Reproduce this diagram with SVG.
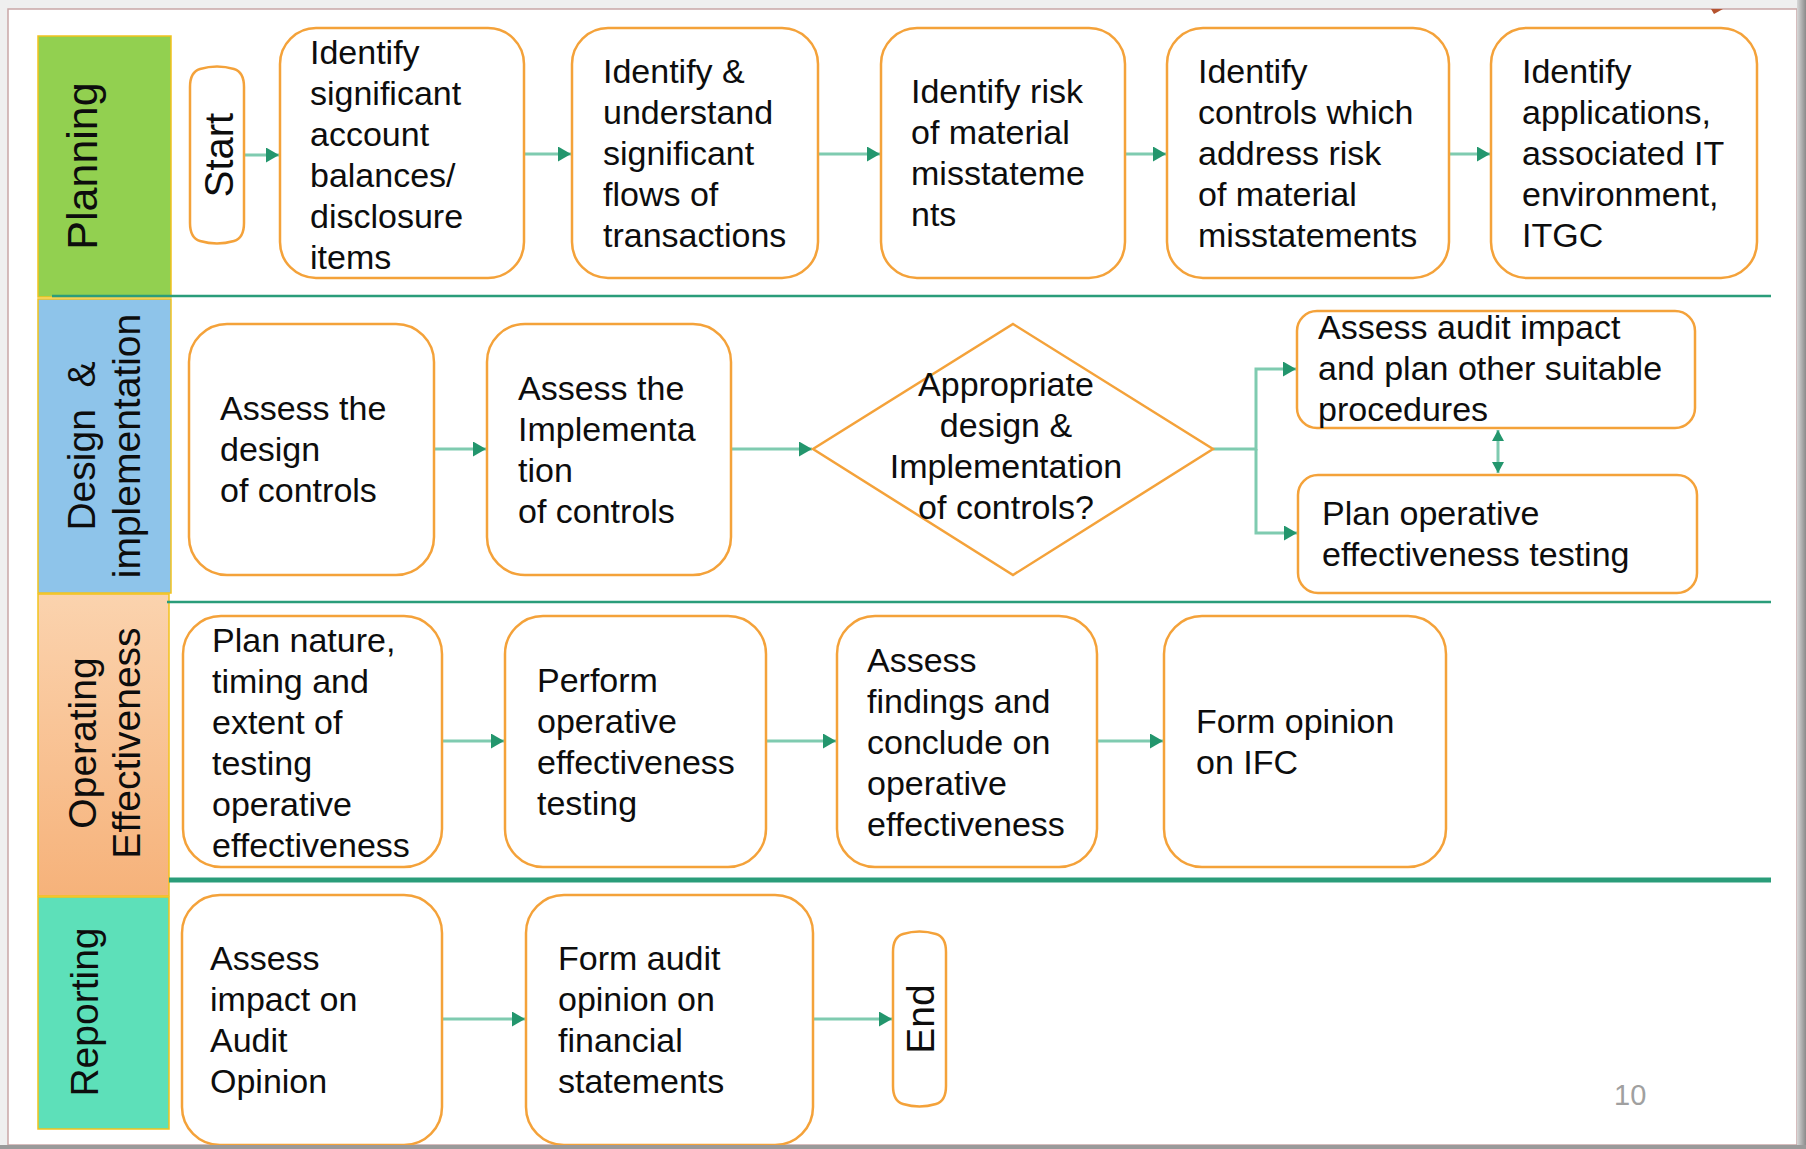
<svg xmlns="http://www.w3.org/2000/svg" width="1806" height="1149" viewBox="0 0 1806 1149">
<defs>
<style>
.node{fill:#fff;stroke:#f4a23a;stroke-width:2.5}
.t{font-family:"Liberation Sans",Arial,Helvetica,sans-serif;font-size:34px;fill:#0d0d0d}
.lt{font-family:"Liberation Sans",Arial,Helvetica,sans-serif;font-size:39px;fill:#0d0d0d;text-anchor:middle;white-space:pre}
.lane{stroke:#f2c21c;stroke-width:1.5}
.conn{fill:none;stroke:#7fcbb0;stroke-width:3}
.sep{stroke:#2a9d7a;fill:none}
</style>
<linearGradient id="og" x1="0" y1="0" x2="0" y2="1">
<stop offset="0" stop-color="#fbd3ae"/>
<stop offset="1" stop-color="#f6b27a"/>
</linearGradient>
<linearGradient id="rb" x1="0" y1="0" x2="1" y2="0">
<stop offset="0" stop-color="#d8d8d8"/>
<stop offset="1" stop-color="#8a8a8a"/>
</linearGradient>
<marker id="ah" markerWidth="14" markerHeight="15" refX="13" refY="7.5" orient="auto" markerUnits="userSpaceOnUse">
<path d="M0,0 L13,7.5 L0,15 z" fill="#23966d"/>
</marker>
<marker id="ah2" markerWidth="12" markerHeight="12" refX="11" refY="6" orient="auto-start-reverse" markerUnits="userSpaceOnUse">
<path d="M0,0 L11,6 L0,12 z" fill="#23966d"/>
</marker>
</defs>

<!-- page background and slide -->
<rect x="0" y="0" width="1806" height="1149" fill="#efefef"/>
<rect x="8" y="9" width="1789" height="1136" fill="#fff" stroke="#c9a7a7" stroke-width="1.5"/>
<path d="M1711,9 L1723,9 L1714,14 z" fill="#b5532f"/>

<!-- lanes -->
<g id="lane-planning">
<rect class="lane" x="38" y="36" width="133" height="261" fill="#92d050"/>
<text class="lt" transform="translate(97,166) rotate(-90)" style="font-size:43px">Planning</text>
</g>
<g id="lane-design">
<rect class="lane" x="38" y="299" width="133" height="294" fill="#8ec4ea"/>
<text class="lt" transform="translate(95,446) rotate(-90)">Design  &amp;</text>
<text class="lt" transform="translate(140,446) rotate(-90)">implementation</text>
</g>
<g id="lane-operating">
<rect class="lane" x="38" y="594" width="131" height="302" fill="url(#og)"/>
<text class="lt" transform="translate(96,743) rotate(-90)">Operating</text>
<text class="lt" transform="translate(140,743) rotate(-90)">Effectiveness</text>
</g>
<g id="lane-reporting">
<rect class="lane" x="38" y="897" width="131" height="232" fill="#5de0b9"/>
<text class="lt" transform="translate(98,1012) rotate(-90)">Reporting</text>
</g>

<!-- separators -->
<g id="separators">
<line class="sep" x1="52" y1="296" x2="1771" y2="296" stroke-width="2.5"/>
<line class="sep" x1="167" y1="602" x2="1771" y2="602" stroke-width="2.5"/>
<line class="sep" x1="169" y1="880" x2="1771" y2="880" stroke-width="5"/>
</g>

<!-- connectors -->
<g id="connectors">
<path class="conn" d="M245,155 H279" marker-end="url(#ah)"/>
<path class="conn" d="M524,154 H571" marker-end="url(#ah)"/>
<path class="conn" d="M818,154 H880" marker-end="url(#ah)"/>
<path class="conn" d="M1125,154 H1166" marker-end="url(#ah)"/>
<path class="conn" d="M1449,154 H1490" marker-end="url(#ah)"/>
<path class="conn" d="M434,449 H486" marker-end="url(#ah)"/>
<path class="conn" d="M731,449 H812" marker-end="url(#ah)"/>
<path class="conn" d="M1213,449 H1256 V369 H1296" marker-end="url(#ah)"/>
<path class="conn" d="M1256,449 V533 H1297" marker-end="url(#ah)"/>
<path class="conn" d="M1498,430 V473" marker-start="url(#ah2)" marker-end="url(#ah2)"/>
<path class="conn" d="M442,741 H504" marker-end="url(#ah)"/>
<path class="conn" d="M766,741 H836" marker-end="url(#ah)"/>
<path class="conn" d="M1097,741 H1163" marker-end="url(#ah)"/>
<path class="conn" d="M442,1019 H525" marker-end="url(#ah)"/>
<path class="conn" d="M813,1019 H892" marker-end="url(#ah)"/>
</g>

<!-- planning nodes -->
<g id="start">
<path class="node" d="M200,69 Q217,64 234,69 Q244,72 244,87 V223 Q244,238 234,241 Q217,246 200,241 Q190,238 190,223 V87 Q190,72 200,69 Z"/>
<text class="lt" transform="translate(233,155) rotate(-90)" style="font-size:40px">Start</text>
</g>
<g id="p1">
<rect class="node" x="280" y="28" width="244" height="250" rx="36"/>
<text class="t"><tspan x="310" y="64">Identify</tspan><tspan x="310" y="105">significant</tspan><tspan x="310" y="146">account</tspan><tspan x="310" y="187">balances/</tspan><tspan x="310" y="228">disclosure</tspan><tspan x="310" y="269">items</tspan></text>
</g>
<g id="p2">
<rect class="node" x="572" y="28" width="246" height="250" rx="36"/>
<text class="t"><tspan x="603" y="83">Identify &amp;</tspan><tspan x="603" y="124">understand</tspan><tspan x="603" y="165">significant</tspan><tspan x="603" y="206">flows of</tspan><tspan x="603" y="247">transactions</tspan></text>
</g>
<g id="p3">
<rect class="node" x="881" y="28" width="244" height="250" rx="36"/>
<text class="t"><tspan x="911" y="103">Identify risk</tspan><tspan x="911" y="144">of material</tspan><tspan x="911" y="185">misstateme</tspan><tspan x="911" y="226">nts</tspan></text>
</g>
<g id="p4">
<rect class="node" x="1167" y="28" width="282" height="250" rx="36"/>
<text class="t"><tspan x="1198" y="83">Identify</tspan><tspan x="1198" y="124">controls which</tspan><tspan x="1198" y="165">address risk</tspan><tspan x="1198" y="206">of material</tspan><tspan x="1198" y="247">misstatements</tspan></text>
</g>
<g id="p5">
<rect class="node" x="1491" y="28" width="266" height="250" rx="36"/>
<text class="t"><tspan x="1522" y="83">Identify</tspan><tspan x="1522" y="124">applications,</tspan><tspan x="1522" y="165">associated IT</tspan><tspan x="1522" y="206">environment,</tspan><tspan x="1522" y="247">ITGC</tspan></text>
</g>

<!-- design nodes -->
<g id="d1">
<rect class="node" x="189" y="324" width="245" height="251" rx="38"/>
<text class="t"><tspan x="220" y="420">Assess the</tspan><tspan x="220" y="461">design</tspan><tspan x="220" y="502">of controls</tspan></text>
</g>
<g id="d2">
<rect class="node" x="487" y="324" width="244" height="251" rx="38"/>
<text class="t"><tspan x="518" y="400">Assess the</tspan><tspan x="518" y="441">Implementa</tspan><tspan x="518" y="482">tion</tspan><tspan x="518" y="523">of controls</tspan></text>
</g>
<g id="decision">
<polygon class="node" points="1013,324 1213,449 1013,575 813,449"/>
<text class="t" text-anchor="middle"><tspan x="1006" y="396">Appropriate</tspan><tspan x="1006" y="437">design &amp;</tspan><tspan x="1006" y="478">Implementation</tspan><tspan x="1006" y="519">of controls?</tspan></text>
</g>
<g id="d3">
<rect class="node" x="1297" y="311" width="398" height="117" rx="20"/>
<text class="t"><tspan x="1318" y="339">Assess audit impact</tspan><tspan x="1318" y="380">and plan other suitable</tspan><tspan x="1318" y="421">procedures</tspan></text>
</g>
<g id="d4">
<rect class="node" x="1298" y="475" width="399" height="118" rx="20"/>
<text class="t"><tspan x="1322" y="525">Plan operative</tspan><tspan x="1322" y="566">effectiveness testing</tspan></text>
</g>

<!-- operating nodes -->
<g id="o1">
<rect class="node" x="183" y="616" width="259" height="251" rx="38"/>
<text class="t"><tspan x="212" y="652">Plan nature,</tspan><tspan x="212" y="693">timing and</tspan><tspan x="212" y="734">extent of</tspan><tspan x="212" y="775">testing</tspan><tspan x="212" y="816">operative</tspan><tspan x="212" y="857">effectiveness</tspan></text>
</g>
<g id="o2">
<rect class="node" x="505" y="616" width="261" height="251" rx="38"/>
<text class="t"><tspan x="537" y="692">Perform</tspan><tspan x="537" y="733">operative</tspan><tspan x="537" y="774">effectiveness</tspan><tspan x="537" y="815">testing</tspan></text>
</g>
<g id="o3">
<rect class="node" x="837" y="616" width="260" height="251" rx="38"/>
<text class="t"><tspan x="867" y="672">Assess</tspan><tspan x="867" y="713">findings and</tspan><tspan x="867" y="754">conclude on</tspan><tspan x="867" y="795">operative</tspan><tspan x="867" y="836">effectiveness</tspan></text>
</g>
<g id="o4">
<rect class="node" x="1164" y="616" width="282" height="251" rx="38"/>
<text class="t"><tspan x="1196" y="733">Form opinion</tspan><tspan x="1196" y="774">on IFC</tspan></text>
</g>

<!-- reporting nodes -->
<g id="r1">
<rect class="node" x="182" y="895" width="260" height="250" rx="38"/>
<text class="t"><tspan x="210" y="970">Assess</tspan><tspan x="210" y="1011">impact on</tspan><tspan x="210" y="1052">Audit</tspan><tspan x="210" y="1093">Opinion</tspan></text>
</g>
<g id="r2">
<rect class="node" x="526" y="895" width="287" height="250" rx="38"/>
<text class="t"><tspan x="558" y="970">Form audit</tspan><tspan x="558" y="1011">opinion on</tspan><tspan x="558" y="1052">financial</tspan><tspan x="558" y="1093">statements</tspan></text>
</g>
<g id="end">
<path class="node" d="M903,934 Q919.5,929 936,934 Q946,937 946,952 V1086 Q946,1101 936,1104 Q919.5,1109 903,1104 Q893,1101 893,1086 V952 Q893,937 903,934 Z"/>
<text class="lt" transform="translate(934,1019) rotate(-90)">End</text>
</g>

<text x="1614" y="1105" font-family="Liberation Sans, Arial, sans-serif" font-size="29" fill="#a0a0a0">10</text>

<!-- slide edges -->
<rect x="1797" y="0" width="9" height="1149" fill="url(#rb)"/>
<rect x="0" y="1145" width="1806" height="4" fill="#9a9a9a"/>
</svg>
